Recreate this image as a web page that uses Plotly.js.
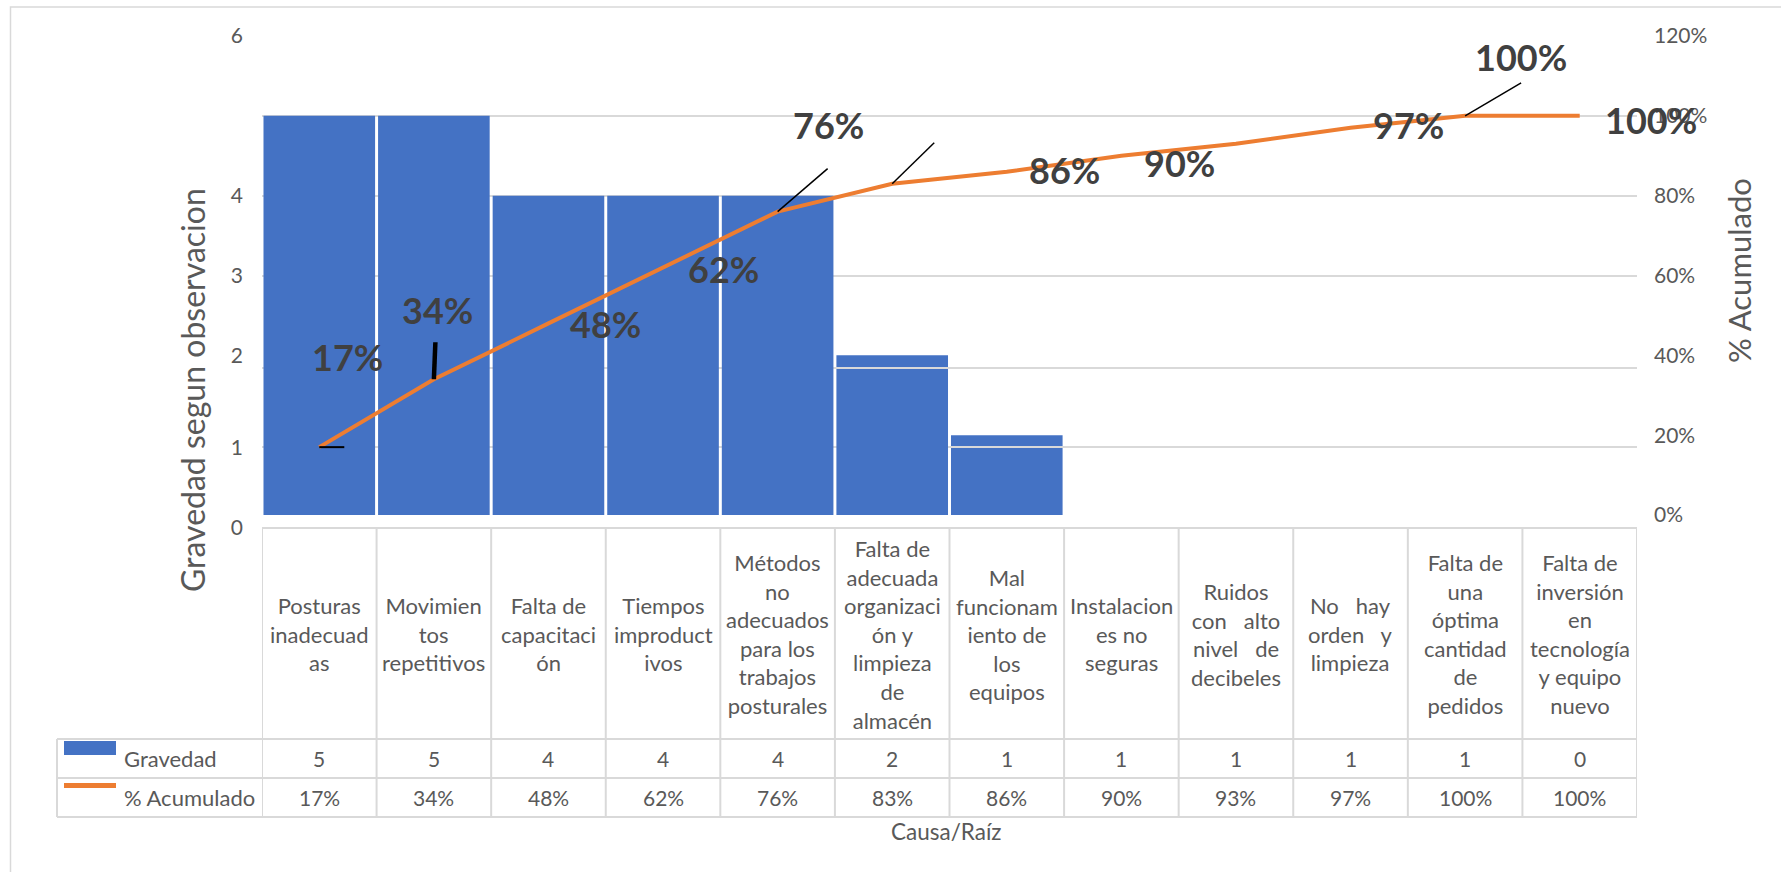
<!DOCTYPE html>
<html>
<head>
<meta charset="utf-8">
<script src="https://cdn.plot.ly/plotly-3.0.1.min.js"></script>
<style>
html,body{margin:0;padding:0;background:#fff;}
#chart{width:1781px;height:872px;}
</style>
</head>
<body>
<div id="chart"></div>
<script>
// ---------------- DATA ----------------
const categories = [
  "Posturas inadecuadas",
  "Movimientos repetitivos",
  "Falta de capacitación",
  "Tiempos improductivos",
  "Métodos no adecuados para los trabajos posturales",
  "Falta de adecuada organización y limpieza de almacén",
  "Mal funcionamiento de los equipos",
  "Instalaciones no seguras",
  "Ruidos con alto nivel de decibeles",
  "No hay orden y limpieza",
  "Falta de una óptima cantidad de pedidos",
  "Falta de inversión en tecnología y equipo nuevo"
];
// category text as wrapped in the table cells
const categoryLabels = [
  "Posturas<br>inadecuad<br>as",
  "Movimien<br>tos<br>repetitivos",
  "Falta de<br>capacitaci<br>ón",
  "Tiempos<br>improduct<br>ivos",
  "Métodos<br>no<br>adecuados<br>para los<br>trabajos<br>posturales",
  "Falta de<br>adecuada<br>organizaci<br>ón y<br>limpieza<br>de<br>almacén",
  "Mal<br>funcionam<br>iento de<br>los<br>equipos",
  "Instalacion<br>es no<br>seguras",
  "Ruidos<br>con\u00a0\u00a0 alto<br>nivel\u00a0\u00a0 de<br>decibeles",
  "No\u00a0\u00a0 hay<br>orden\u00a0\u00a0 y<br>limpieza",
  "Falta de<br>una<br>óptima<br>cantidad<br>de<br>pedidos",
  "Falta de<br>inversión<br>en<br>tecnología<br>y equipo<br>nuevo"
];
// table values
const gravedad  = [5, 5, 4, 4, 4, 2, 1, 1, 1, 1, 1, 0];
const acumulado = [0.17, 0.34, 0.48, 0.62, 0.76, 0.83, 0.86, 0.90, 0.93, 0.97, 1.00, 1.00];
// bars actually drawn in the picture (only the first seven causes show a column)
const gravedadBarras = [5, 5, 4, 4, 4, 2, 1, null, null, null, null, null];
const seriesNames = ["Gravedad", "% Acumulado"];
const leftTickText = ["0", "1", "2", "3", "4", "6"];
const rightTickVals = [0, 0.2, 0.4, 0.6, 0.8, 1.0, 1.2];
const xTitle = "Causa/Raíz";
const yTitle = "Gravedad segun observacion";
const y2Title = "% Acumulado";
// data labels that are visible in the picture
const shownLabels = [0, 1, 2, 3, 4, 6, 7, 9, 10, 11];

// ---------------- STYLE / GEOMETRY ----------------
const FONT = "Lato, 'Open Sans', sans-serif";
const BLUE = "#4472C4", ORANGE = "#ED7D31", GRID = "#D9D9D9", TXT = "#595959";
const W = 1781, H = 872;
const L = 262, R = 1637, T = 36, B = 529;   // plot area in px
const ZERO = 515;                            // pixel of value 0
const kL = (ZERO - T) / 6;                   // px per unit, left axis
const kR = (ZERO - T) / 1.2;                 // px per unit, right axis
const px2x = p => (p - L) / (R - L);
const py2y = p => (B - p) / (B - T);
const pct = v => Math.round(v * 100) + "%";

// label offsets (px) relative to their line point
const labelOffsets = {0:[28,90], 1:[4,69], 2:[57,-1], 3:[60,-1], 4:[51,87], 6:[58,2], 7:[58,-7], 9:[58,3], 10:[56,59], 11:[71,-4]};
// leader lines: [index, dx, dy, width]
const leaders = [[0,25,0,2],[1,1.5,37,4.5],[4,50,43,1.5],[5,42,41,1.5],[10,56,33,1.5]];

const traces = [
  {type:"bar", x:categories, y:gravedadBarras, name:seriesNames[0],
   marker:{color:BLUE, line:{width:0}}, yaxis:"y", hoverinfo:"skip"},
  {type:"scatter", mode:"lines", x:categories, y:acumulado, name:seriesNames[1],
   line:{color:ORANGE, width:4}, yaxis:"y2", hoverinfo:"skip"}
];

const C = {xanchor:"center", yanchor:"middle", showarrow:false};
const annotations = [];
shownLabels.forEach(i => {
  const o = labelOffsets[i];
  annotations.push(Object.assign({xref:"x", yref:"y2", x:i, y:acumulado[i], text:pct(acumulado[i]),
    xshift:o[0], yshift:o[1],
    font:{family:FONT, size:36, color:"#404040", weight:700}}, C));
});
// table: categories + values
categories.forEach((c, i) => {
  annotations.push(Object.assign({xref:"x", yref:"paper", x:i, y:py2y(634), text:categoryLabels[i],
    align:"center", font:{family:FONT, size:22, color:TXT}}, C));
  annotations.push(Object.assign({xref:"x", yref:"paper", x:i, y:py2y(758.5), text:String(gravedad[i]),
    font:{family:FONT, size:21, color:TXT}}, C));
  annotations.push(Object.assign({xref:"x", yref:"paper", x:i, y:py2y(797.5), text:pct(acumulado[i]),
    font:{family:FONT, size:21, color:TXT}}, C));
});
// legend keys text
annotations.push(Object.assign({xref:"paper", yref:"paper", x:px2x(122), y:py2y(758.5),
  text:seriesNames[0], font:{family:FONT, size:22, color:TXT}}, C, {xanchor:"left"}));
annotations.push(Object.assign({xref:"paper", yref:"paper", x:px2x(122), y:py2y(797.5),
  text:seriesNames[1], font:{family:FONT, size:22, color:TXT}}, C, {xanchor:"left"}));
// axis titles
annotations.push(Object.assign({xref:"paper", yref:"paper", x:px2x(946), y:py2y(831), text:xTitle,
  font:{family:FONT, size:22.5, color:TXT}}, C));
annotations.push(Object.assign({xref:"paper", yref:"paper", x:px2x(192), y:py2y(390), text:yTitle,
  textangle:-90, font:{family:FONT, size:32, color:TXT}}, C));
annotations.push(Object.assign({xref:"paper", yref:"paper", x:px2x(1739), y:py2y(271), text:y2Title,
  textangle:-90, font:{family:FONT, size:31, color:TXT}}, C));

const shapes = [];
// outer chart border
shapes.push({type:"rect", xref:"paper", yref:"paper", x0:px2x(10.5), x1:px2x(1800), y0:py2y(7), y1:py2y(900),
  line:{color:GRID, width:1.5}, fillcolor:"rgba(0,0,0,0)", layer:"below"});
// gridlines that run over the low columns
shapes.push({type:"line", xref:"x", yref:"y3", x0:4.5, x1:5.5, y0:368, y1:368, line:{color:GRID, width:2}, layer:"above"});
shapes.push({type:"line", xref:"x", yref:"y3", x0:5.5, x1:6.5, y0:447, y1:447, line:{color:GRID, width:2}, layer:"above"});
// leader lines
leaders.forEach(([i, dx, dy, w]) => {
  shapes.push({type:"line", xref:"x", yref:"y2", xsizemode:"pixel", ysizemode:"pixel",
    xanchor:i, yanchor:acumulado[i], x0:0, y0:0, x1:dx, y1:dy, line:{color:"#000", width:w}, layer:"above"});
});
// data table borders
const tTop = 528, tRow1 = 739, tRow2 = 778, tBot = 817, tLeft = 57;
const tl = {color:GRID, width:2};
shapes.push({type:"line", xref:"paper", yref:"paper", x0:0, x1:1, y0:py2y(tTop), y1:py2y(tTop), line:tl});
[tRow1, tRow2, tBot].forEach(p => shapes.push({type:"line", xref:"paper", yref:"paper",
  x0:px2x(tLeft), x1:1, y0:py2y(p), y1:py2y(p), line:tl}));
shapes.push({type:"line", xref:"paper", yref:"paper", x0:px2x(tLeft), x1:px2x(tLeft), y0:py2y(tRow1), y1:py2y(tBot), line:tl});
for (let i = 0; i <= categories.length; i++) {
  shapes.push({type:"line", xref:"x", yref:"paper", x0:i - 0.5, x1:i - 0.5, y0:py2y(tTop), y1:py2y(tBot), line:tl});
}
// legend keys
shapes.push({type:"rect", xref:"paper", yref:"paper", x0:px2x(64), x1:px2x(116), y0:py2y(741), y1:py2y(755),
  line:{width:0}, fillcolor:BLUE});
shapes.push({type:"rect", xref:"paper", yref:"paper", x0:px2x(64), x1:px2x(116), y0:py2y(783), y1:py2y(788),
  line:{width:0}, fillcolor:ORANGE});

const layout = {
  width:W, height:H,
  margin:{l:L, r:W - R, t:T, b:H - B, pad:0},
  paper_bgcolor:"#fff", plot_bgcolor:"rgba(0,0,0,0)",
  showlegend:false,
  bargap:0.026,
  font:{family:FONT, color:TXT},
  xaxis:{type:"category", range:[-0.5, categories.length - 0.5], showticklabels:false, ticks:"",
    showgrid:false, zeroline:false, showline:false, fixedrange:true},
  yaxis:{range:[(ZERO - B) / kL, (ZERO - T) / kL], tickvals:[(ZERO - 528) / kL, (ZERO - 448) / kL, 2, 3, 4, 6],
    ticktext:leftTickText, showgrid:false, zeroline:false, showline:false, ticks:"",
    ticklabelstandoff:18, tickfont:{family:FONT, size:21, color:TXT}},
  yaxis2:{overlaying:"y", side:"right", range:[(ZERO - B) / kR, (ZERO - T) / kR], tickvals:rightTickVals,
    ticktext:rightTickVals.map(pct), showgrid:false, zeroline:false, showline:false, ticks:"",
    ticklabelstandoff:16, tickfont:{family:FONT, size:21, color:TXT}},
  yaxis3:{overlaying:"y", range:[B, T], tickvals:[447, 368, 276, 196, 116, 36], showticklabels:false,
    showgrid:true, gridcolor:GRID, gridwidth:2, zeroline:false, showline:false, ticks:""},
  annotations:annotations,
  shapes:shapes
};

Plotly.newPlot("chart", traces, layout, {displayModeBar:false, staticPlot:true});
</script>
</body>
</html>
